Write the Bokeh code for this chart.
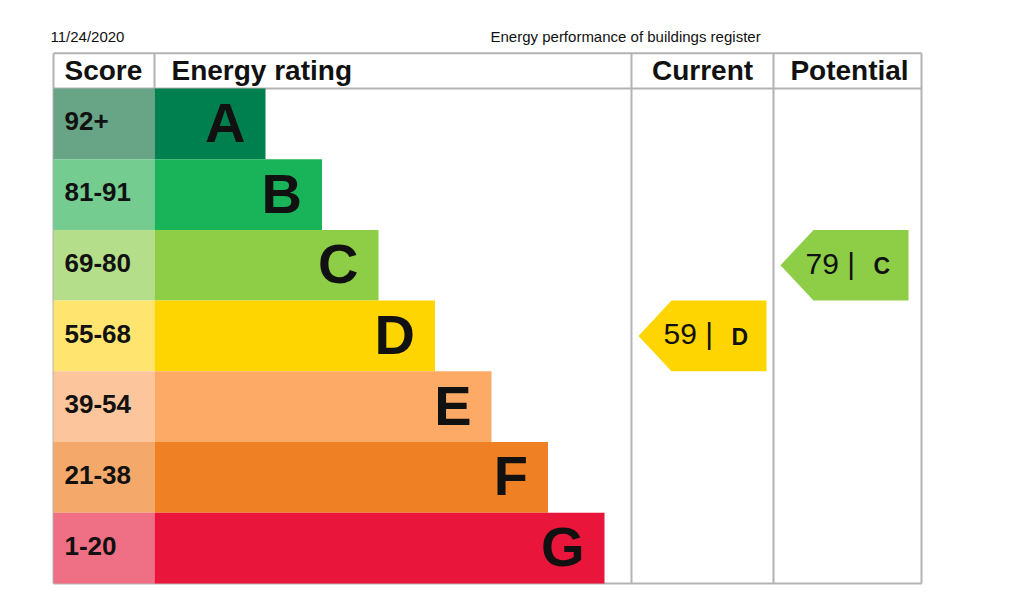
from bokeh.plotting import figure
from bokeh.models import Range1d
from bokeh.core.properties import value
from bokeh.embed import file_html
from bokeh.resources import INLINE

# ---------------- data ----------------
bands = ["A", "B", "C", "D", "E", "F", "G"]
score_ranges = ["92+", "81-91", "69-80", "55-68", "39-54", "21-38", "1-20"]
band_min = [92, 81, 69, 55, 39, 21, 1]
bar_colors = ["#00804f", "#19b459", "#8dce46", "#ffd500", "#fcaa65", "#ef8023", "#e9153b"]
score_colors = ["#68a486", "#74cc90", "#b5de8a", "#ffe46f", "#fdc59c", "#f4a96b", "#ef6f85"]
current_score = 59
potential_score = 79
date_label = "11/24/2020"
title_label = "Energy performance of buildings register"
headers = ["Score", "Energy rating", "Current", "Potential"]

# ---------------- layout (px for x, rows for y) ----------------
FONT = value("Liberation Sans")
ROW_PX = 70.7
TOP_PX = 88.0
HEADER_H = 0.5
FRAME_L, SCORE_R, CUR_L, POT_L, FRAME_R = 53, 154, 631, 773, 921
BAR_ORIGIN, BAR_STEP = 152, 56.5
GRID = "#b3b3b3"
INK = "#111111"


def off(d, size):
    # baseline offset in px, corrected for the renderer's alphabetic baseline
    return d - 0.4 * size


p = figure(width=1008, height=590,
           x_range=Range1d(0, 1008),
           y_range=Range1d((590 - TOP_PX) / ROW_PX, (0 - TOP_PX) / ROW_PX),
           output_backend="svg", toolbar_location=None, min_border=0)
p.xaxis.visible = False
p.yaxis.visible = False
p.grid.visible = False
p.outline_line_color = None
p.background_fill_color = "white"
p.border_fill_color = "white"

n = len(bands)
rows = list(range(n))

# frame lines
hy = [-HEADER_H, 0, n]
p.segment(x0=[FRAME_L] * 3, y0=hy, x1=[FRAME_R] * 3, y1=hy, line_color=GRID, line_width=2)
vx = [FRAME_L, SCORE_R, CUR_L, POT_L, FRAME_R]
p.segment(x0=vx, y0=[-HEADER_H] * 5, x1=vx, y1=[n, 0, n, n, n], line_color=GRID, line_width=2)

# score cells and bars
bar_right = [BAR_ORIGIN + (i + 2) * BAR_STEP for i in rows]
p.quad(left=FRAME_L, right=SCORE_R, top=rows, bottom=[r + 1 for r in rows],
       fill_color=score_colors, line_color=None)
p.quad(left=SCORE_R, right=bar_right, top=rows, bottom=[r + 1 for r in rows],
       fill_color=bar_colors, line_color=None)

centers = [r + 0.5 for r in rows]
p.text(x=FRAME_L + 11, y=centers, text=score_ranges, text_font=FONT,
       text_font_style="bold", text_font_size="26px", text_color=INK,
       text_align="left", text_baseline="alphabetic", y_offset=off(8, 26))
p.text(x=[b - 20 for b in bar_right], y=centers, text=bands, text_font=FONT,
       text_font_style="bold", text_font_size="56px", text_color=INK,
       text_align="right", text_baseline="alphabetic", y_offset=off(21, 56))

# headers
hc = -HEADER_H / 2
p.text(x=[64, 171], y=[hc, hc], text=headers[:2], text_font=FONT, text_font_style="bold",
       text_font_size="28px", text_color=INK, text_align="left",
       text_baseline="alphabetic", y_offset=off(10.5, 28))
p.text(x=[(CUR_L + POT_L) / 2, (POT_L + FRAME_R) / 2 + 2], y=[hc, hc], text=headers[2:],
       text_font=FONT, text_font_style="bold", text_font_size="28px", text_color=INK,
       text_align="center", text_baseline="alphabetic", y_offset=off(10.5, 28))

# top labels
p.text(x=[50, 490], y=[-HEADER_H, -HEADER_H], text=[date_label, title_label],
       text_font=FONT, text_font_size="15px", text_color=INK, text_align="left",
       text_baseline="alphabetic", y_offset=off(-11, 15))

# arrows
def band_of(score):
    return next(i for i, m in enumerate(band_min) if score >= m)


arrow_xs, arrow_ys, arrow_cols = [], [], []
num_x, num_y, num_t, let_x, let_t = [], [], [], [], []
for col_left, score in [(CUR_L, current_score), (POT_L, potential_score)]:
    b = band_of(score)
    tip, body, right = col_left + 7, col_left + 40, col_left + 135
    arrow_xs.append([tip, body, right, right, body])
    arrow_ys.append([b + 0.5, b, b, b + 1, b + 1])
    arrow_cols.append(bar_colors[b])
    num_x.append(tip + 25)
    num_y.append(b + 0.5)
    num_t.append(f"{score} |")
    let_x.append(tip + 93)
    let_t.append(bands[b])
p.patches(xs=arrow_xs, ys=arrow_ys, fill_color=arrow_cols, line_color=None)
p.text(x=num_x, y=num_y, text=num_t, text_font=FONT, text_font_size="30px",
       text_color=INK, text_align="left", text_baseline="alphabetic", y_offset=off(10, 30))
p.text(x=let_x, y=num_y, text=let_t, text_font=FONT, text_font_style="bold",
       text_font_size="23px", text_color=INK, text_align="left",
       text_baseline="alphabetic", y_offset=off(10, 23))

open("out.html", "w").write(file_html(p, INLINE))
